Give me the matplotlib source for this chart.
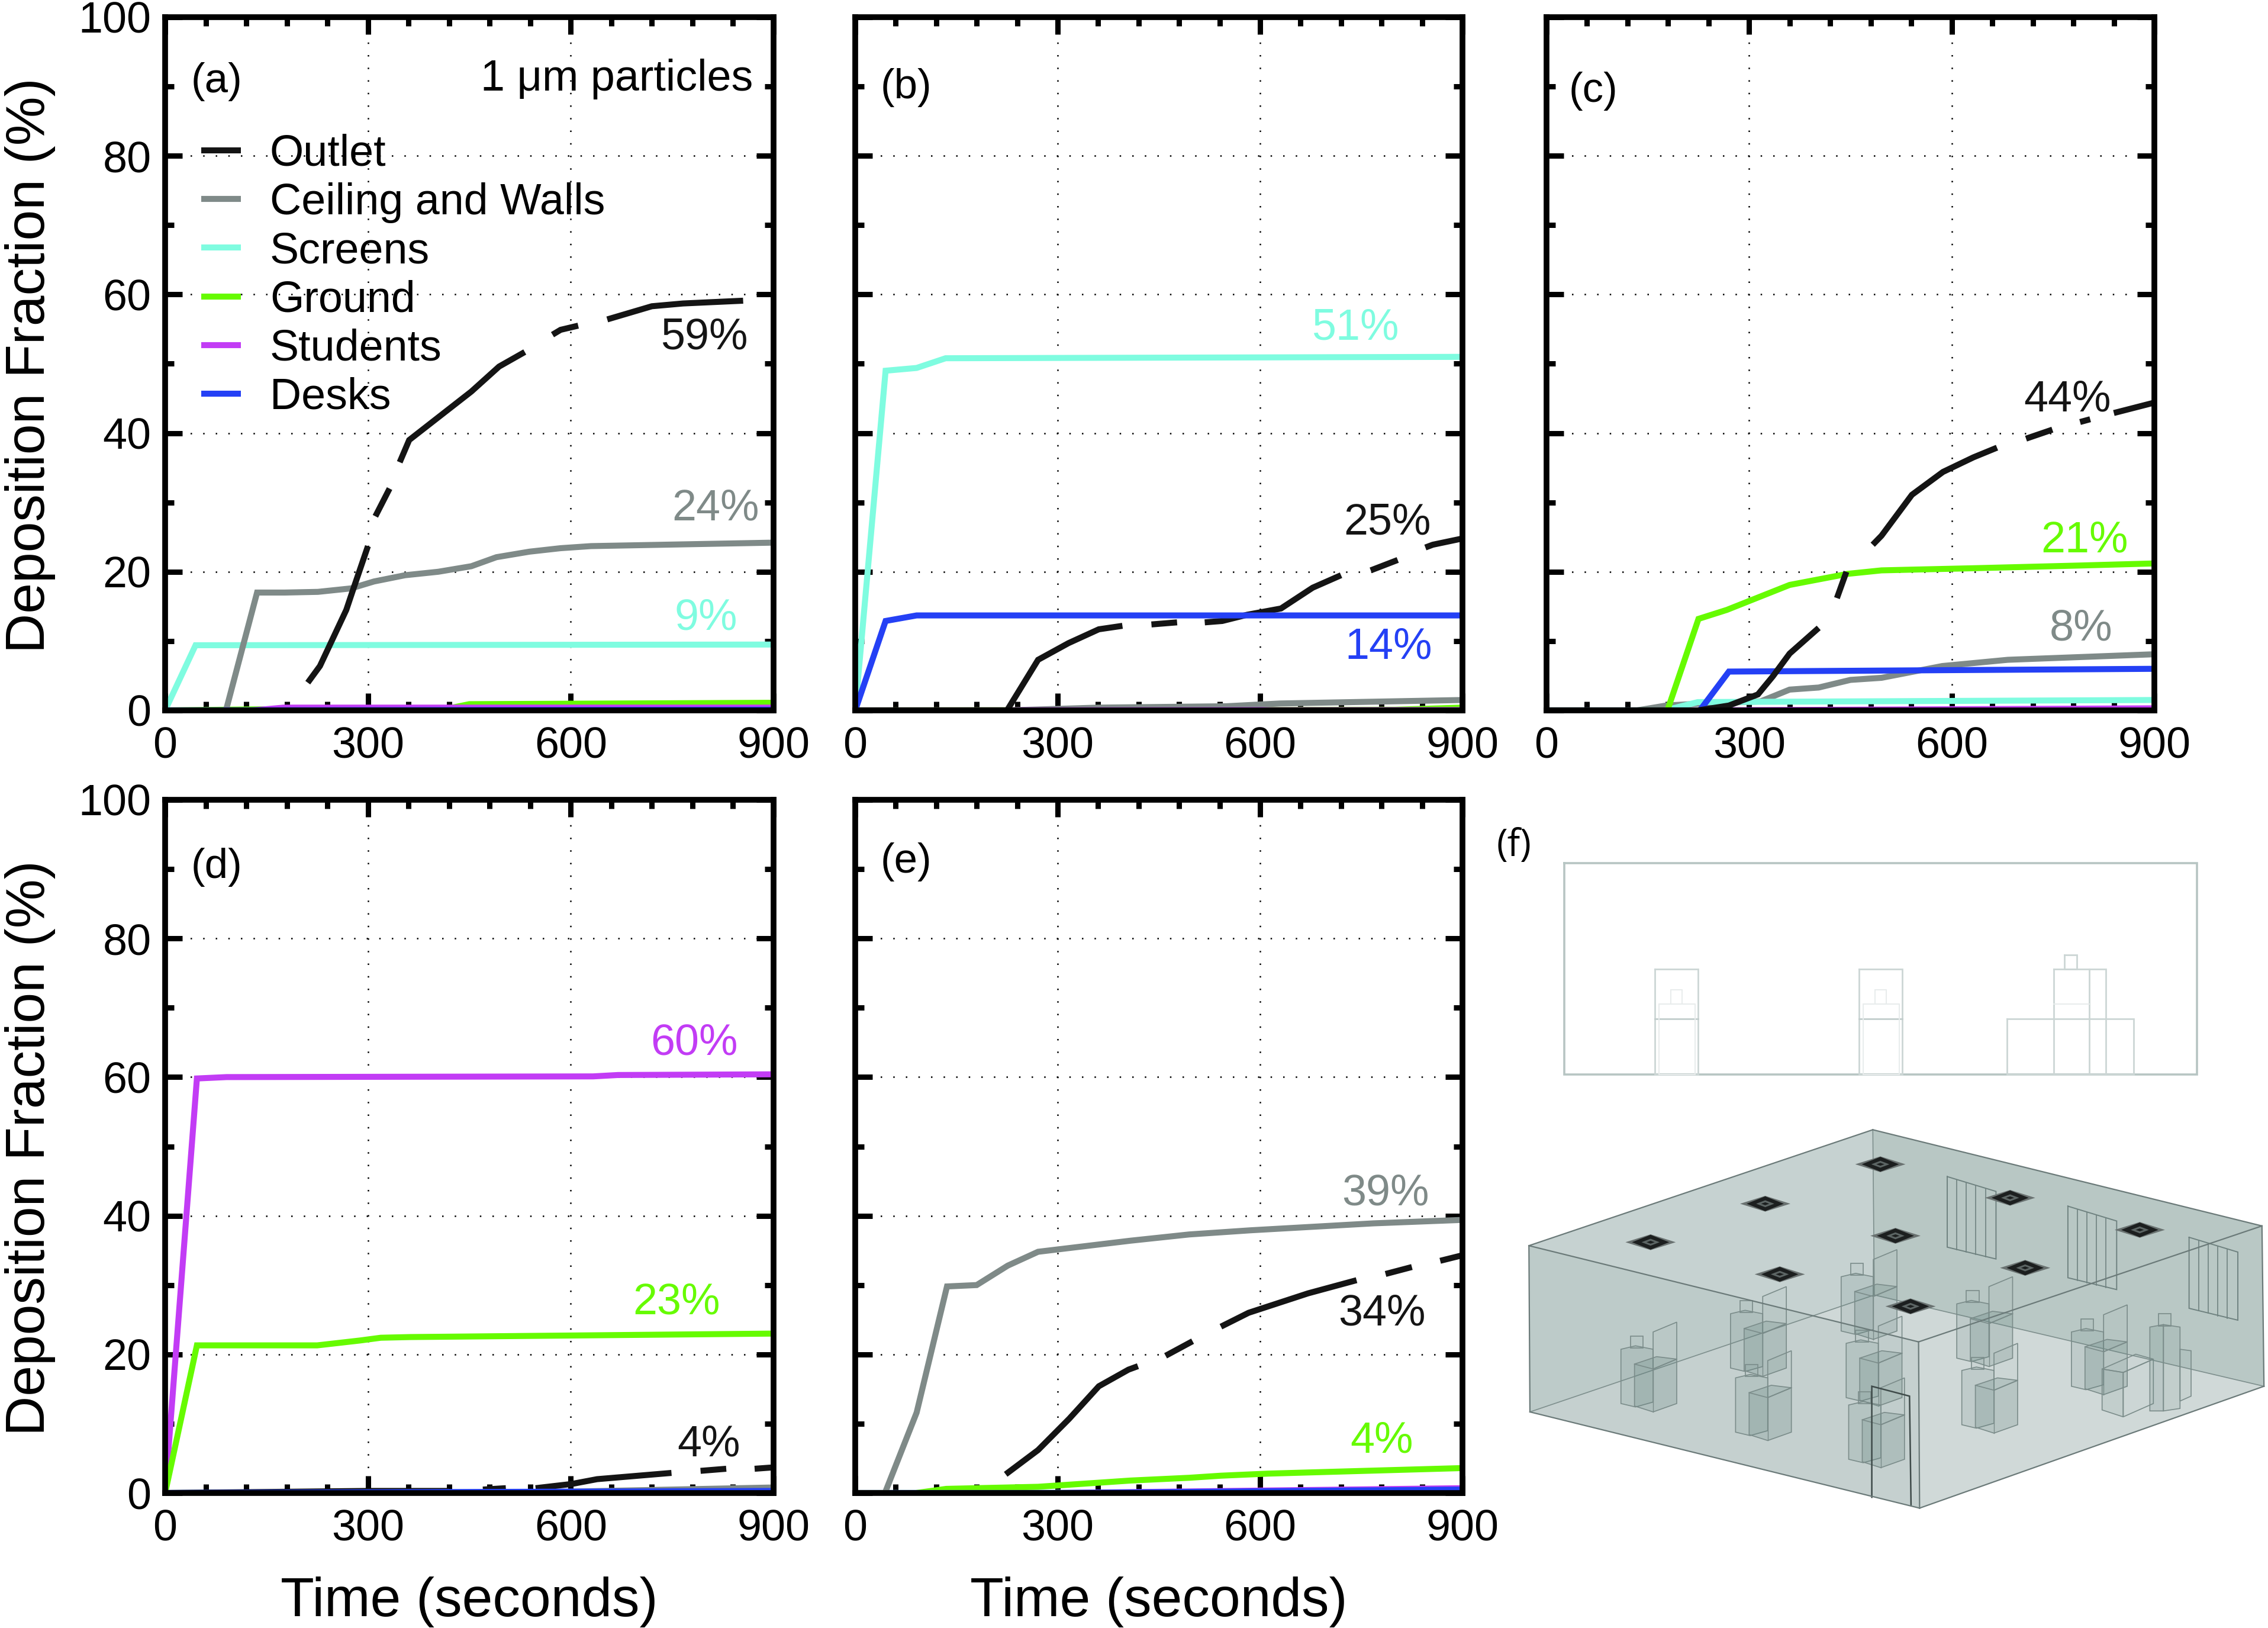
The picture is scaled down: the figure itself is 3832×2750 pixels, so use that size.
import numpy as np
import matplotlib
matplotlib.use("Agg")
import matplotlib.pyplot as plt
from matplotlib.patches import Polygon
from matplotlib.ticker import MultipleLocator

plt.rcParams['font.family'] = ['Liberation Sans', 'DejaVu Sans']
gap = float('nan')

# ---- data, panel (a)
a_outlet_t = [211, 229, 268, 279, 300, gap, 311, 332, gap, 347, 361, 407, 453, 494, 532, gap, 573, 585, 611, gap, 654, 720, 766, 855]
a_outlet_y = [4, 6.4, 14.5, 17.7, 23.7, gap, 28, 32, gap, 35.8, 39, 42.5, 46, 49.6, 51.7, gap, 54.2, 54.9, 55.5, gap, 56.4, 58.3, 58.7, 59.1]
a_ceiling_t = [0, 90, 136, 177, 226, 275, 309, 355, 404, 453, 490, 539, 585, 630, 900]
a_ceiling_y = [0, 0, 17, 17, 17.1, 17.6, 18.6, 19.5, 20, 20.8, 22.1, 22.9, 23.4, 23.7, 24.2]
a_screens_t = [0, 45, 900]
a_screens_y = [0, 9.4, 9.5]
a_ground_t = [0, 180, 420, 450, 900]
a_ground_y = [0, 0.2, 0.3, 0.9, 1.1]
a_students_t = [0, 130, 175, 900]
a_students_y = [0, 0, 0.4, 0.4]
a_desks_t = [0, 900]
a_desks_y = [0, 0.1]

# ---- data, panel (b)
b_outlet_t = [0, 225, 271, 316, 361, 396, gap, 439, 477, gap, 518, 544, 581, 631, 678, 720, gap, 764, 804, gap, 845, 856, 900]
b_outlet_y = [0, 0, 7.3, 9.7, 11.7, 12.2, gap, 12.4, 12.7, gap, 12.7, 12.9, 13.8, 14.7, 17.7, 19.5, gap, 20.2, 21.7, gap, 23.5, 23.9, 24.8]
b_ceiling_t = [0, 225, 360, 550, 630, 900]
b_ceiling_y = [0, 0, 0.4, 0.6, 1, 1.5]
b_screens_t = [0, 45, 91, 134, 900]
b_screens_y = [0, 49, 49.4, 50.8, 51]
b_ground_t = [0, 800, 900]
b_ground_y = [0, 0.1, 0.4]
b_students_t = [0, 900]
b_students_y = [0, 0.05]
b_desks_t = [0, 45, 91, 900]
b_desks_y = [0, 12.9, 13.7, 13.7]

# ---- data, panel (c)
c_outlet_t = [0, 224, 270, 313, 335, 360, 403, gap, 430, 444, gap, 483, 496, 541, 587, 632, 667, gap, 710, 749, gap, 790, 805, gap, 840, 900]
c_outlet_y = [0, 0, 0.7, 2.3, 4.9, 8.2, 11.9, gap, 16.2, 20, gap, 23.9, 25.2, 31.1, 34.4, 36.5, 37.9, gap, 39.2, 40.5, gap, 41.6, 42, gap, 42.9, 44.4]
c_ceiling_t = [0, 134, 177, 231, 317, 360, 403, 450, 496, 586, 683, 900]
c_ceiling_y = [0, 0, 0.7, 1, 1.3, 3, 3.3, 4.4, 4.7, 6.4, 7.3, 8.1]
c_screens_t = [0, 175, 224, 900]
c_screens_y = [0, 0, 1.2, 1.5]
c_ground_t = [0, 179, 225, 267, 360, 446, 496, 539, 629, 790, 900]
c_ground_y = [0, 0, 13.2, 14.5, 18.1, 19.7, 20.2, 20.3, 20.5, 20.9, 21.2]
c_students_t = [0, 220, 900]
c_students_y = [0, 0, 0.3]
c_desks_t = [0, 227, 270, 900]
c_desks_y = [0, 0, 5.6, 6.0]

# ---- data, panel (d)
d_outlet_t = [0, 300, 420, gap, 470, 504, gap, 548, 601, 639, 749, gap, 792, 830, gap, 872, 900]
d_outlet_y = [0, 0.3, 0.3, gap, 0.5, 0.7, gap, 0.7, 1.3, 2, 2.9, gap, 3.2, 3.5, gap, 3.5, 3.7]
d_ceiling_t = [0, 550, 900]
d_ceiling_y = [0, 0.1, 0.8]
d_screens_t = [0, 900]
d_screens_y = [0, 0.1]
d_ground_t = [0, 47, 225, 288, 319, 363, 900]
d_ground_y = [0, 21.3, 21.3, 22, 22.4, 22.5, 23]
d_students_t = [0, 47, 91, 633, 670, 900]
d_students_y = [0, 59.8, 60, 60.1, 60.3, 60.4]
d_desks_t = [0, 900]
d_desks_y = [0, 0.3]

# ---- data, panel (e)
e_outlet_t = [223, 271, 317, 361, 405, 419, gap, 460, 500, gap, 542, 583, 671, 743, gap, 786, 825, gap, 867, 900]
e_outlet_y = [2.7, 6.2, 10.7, 15.4, 17.8, 18.3, gap, 19.8, 21.9, gap, 24, 26, 28.8, 30.7, gap, 31.6, 32.6, gap, 33.5, 34.3]
e_ceiling_t = [0, 44, 91, 136, 180, 226, 271, 408, 495, 586, 768, 900]
e_ceiling_y = [0, 0, 11.6, 29.8, 30, 32.8, 34.8, 36.4, 37.3, 37.9, 38.9, 39.4]
e_screens_t = [0, 900]
e_screens_y = [0, 0.1]
e_ground_t = [0, 90, 135, 271, 408, 495, 542, 612, 900]
e_ground_y = [0, 0, 0.6, 0.9, 1.8, 2.2, 2.5, 2.8, 3.6]
e_students_t = [0, 300, 900]
e_students_y = [0, 0, 0.7]
e_desks_t = [0, 300, 900]
e_desks_y = [0, 0, 0.5]

names = ['Outlet', 'Ceiling and Walls', 'Screens', 'Ground', 'Students', 'Desks']
colors = ['#141414', '#7f8a88', '#7ffce0', '#66fb00', '#c23cf5', '#2440f5']
x_ticks = [0, 300, 600, 900]
y_ticks = [0, 20, 40, 60, 80, 100]

W, H = 3832, 2750
fig = plt.figure(figsize=(W / 100, H / 100), dpi=100, facecolor='white')


def px_axes(x0, y0, x1, y1, **kw):
    return fig.add_axes([x0 / W, 1 - y1 / H, (x1 - x0) / W, (y1 - y0) / H], **kw)


panels = [
    dict(box=(279, 29, 1307, 1200), tag='(a)', tagpos=(38, 90.7), ylab=True, xlab=False,
         series=[(a_ground_t, a_ground_y), (a_screens_t, a_screens_y), (a_ceiling_t, a_ceiling_y),
                 (a_students_t, a_students_y), (a_desks_t, a_desks_y), (a_outlet_t, a_outlet_y)],
         notes=[('59%', 862, 53.8, 0), ('24%', 879, 29.1, 1), ('9%', 847, 13.3, 2)]),
    dict(box=(1445, 29, 2471, 1200), tag='(b)', tagpos=(37, 89.8), ylab=False, xlab=False,
         series=[(b_ground_t, b_ground_y), (b_ceiling_t, b_ceiling_y), (b_students_t, b_students_y),
                 (b_screens_t, b_screens_y), (b_outlet_t, b_outlet_y), (b_desks_t, b_desks_y)],
         notes=[('51%', 806, 55.2, 2), ('25%', 853, 27.1, 0), ('14%', 855, 9.1, 5)]),
    dict(box=(2613, 29, 3640, 1200), tag='(c)', tagpos=(33, 89.3), ylab=False, xlab=False,
         series=[(c_students_t, c_students_y), (c_ceiling_t, c_ceiling_y), (c_screens_t, c_screens_y),
                 (c_ground_t, c_ground_y), (c_desks_t, c_desks_y), (c_outlet_t, c_outlet_y)],
         notes=[('44%', 836, 44.8, 0), ('21%', 861, 24.5, 3), ('8%', 838, 11.8, 1)]),
    dict(box=(279, 1351, 1307, 2522), tag='(d)', tagpos=(38, 90.3), ylab=True, xlab=True,
         series=[(d_ceiling_t, d_ceiling_y), (d_screens_t, d_screens_y), (d_students_t, d_students_y),
                 (d_ground_t, d_ground_y), (d_outlet_t, d_outlet_y), (d_desks_t, d_desks_y)],
         notes=[('60%', 847, 64.9, 4), ('23%', 821, 27.5, 3), ('4%', 851, 7, 0)]),
    dict(box=(1445, 1351, 2471, 2522), tag='(e)', tagpos=(37, 91), ylab=False, xlab=True,
         series=[(e_screens_t, e_screens_y), (e_ground_t, e_ground_y), (e_students_t, e_students_y),
                 (e_desks_t, e_desks_y), (e_ceiling_t, e_ceiling_y), (e_outlet_t, e_outlet_y)],
         notes=[('39%', 851, 43.2, 1), ('34%', 845, 25.9, 0), ('4%', 827, 7.5, 3)]),
]
# which colour each series of a panel uses, in its drawing order
orders = [[3, 2, 1, 4, 5, 0], [3, 1, 4, 2, 0, 5], [4, 1, 2, 3, 5, 0], [1, 2, 4, 3, 0, 5], [2, 3, 4, 5, 1, 0]]

FS = 53
for p, order in zip(panels, orders):
    ax = px_axes(*p['box'])
    handles = {}
    for (t, y), ci in zip(p['series'], order):
        ln, = ax.plot(t, y, color=colors[ci], lw=7.3, solid_capstyle='butt', solid_joinstyle='miter',
                      label=names[ci], zorder=2)
        handles[ci] = ln
    ax.set_xlim(0, 900)
    ax.set_ylim(0, 100)
    ax.set_xticks(x_ticks)
    ax.set_yticks(y_ticks)
    ax.xaxis.set_minor_locator(MultipleLocator(60))
    ax.yaxis.set_minor_locator(MultipleLocator(10))
    ax.grid(True, which='major', color='black', linestyle=(0, (1, 7.5)), linewidth=1.8, zorder=1)
    ax.set_axisbelow(True)
    ax.tick_params(which='major', direction='in', length=21, width=6.5, top=True, right=True,
                   labelsize=FS)
    ax.tick_params(which='minor', direction='in', length=11, width=6.5, top=True, right=True)
    ax.tick_params(axis='x', which='major', pad=19)
    ax.tick_params(axis='y', which='major', pad=17, labelleft=p['ylab'])
    for s in ax.spines.values():
        s.set_linewidth(7)
    if p['ylab']:
        ax.set_ylabel('Deposition Fraction (%)', fontsize=67, va='center')
        ax.yaxis.set_label_coords(-0.222, 0.498)
    if p['xlab']:
        ax.set_xlabel('Time (seconds)', fontsize=67, va='center')
        ax.xaxis.set_label_coords(0.5, -0.157)
    ax.text(p['tagpos'][0], p['tagpos'][1], p['tag'], fontsize=51, ha='left', va='center')
    for txt, x, y, ci in p['notes']:
        ax.text(x, y, txt, color=colors[ci], fontsize=FS, ha='right', va='center')
    if p['tag'] == '(a)':
        ax.text(870, 91.1, '1 \u03bcm particles', fontsize=FS, ha='right', va='center')
        ax.legend([handles[i] for i in range(6)], names, loc='upper left',
                  bbox_to_anchor=(0.059, 0.832), frameon=False, fontsize=FS,
                  handlelength=0.92, handletextpad=0.66, labelspacing=0.18,
                  borderpad=0, borderaxespad=0)

# ---- panel (f): schematic of the classroom
fx = px_axes(2500, 1300, 3832, 2600)
fx.set_xlim(0, 1568)
fx.set_ylim(1560, 0)
fx.axis('off')
fx.patch.set_alpha(0)
fx.text(68, 155, '(f)', fontsize=46, ha='center', va='center', family=['Open Sans', 'DejaVu Sans'])

EDGE = '#ccd6d5'
DARK = '#6b7a79'
TEAL = '#5f807c'


def outline(xs, ys, c=EDGE, lw=2.0, z=3):
    fx.plot(xs, ys, color=c, lw=lw, solid_joinstyle='miter', zorder=z)


def rect(x0, y0, x1, y1, c=EDGE, lw=2.0, z=3):
    outline([x0, x1, x1, x0, x0], [y0, y0, y1, y1, y0], c, lw, z)


def face(pts, alpha, z=2, ec='none', lw=1.2, fc=TEAL):
    fx.add_patch(Polygon(pts, closed=True, fc=matplotlib.colors.to_rgba(fc, alpha), ec=ec, lw=lw, zorder=z))


# top elevation
rect(168, 190, 1427, 618, '#b7c5c3', 2.6)
for a, b in ((349, 434), (755, 841)):
    rect(a, 404, b, 618)
    outline([a, b], [505, 505], '#c2cdcc')
    rect(a + 8, 475, b - 6, 618, '#e8ecec', 1.4)
    rect(a + 31, 447, a + 54, 475, '#e8ecec', 1.4)
rect(1049, 505, 1301, 618)
rect(1142, 404, 1246, 618)
outline([1212, 1212], [404, 618])
rect(1163, 376, 1188, 404)
outline([1142, 1212], [475, 475], '#e8ecec', 1.4)

# room faces
T0, T1, T2, T3 = (98, 965), (782, 730), (1556, 925), (873, 1160)
B0, B1, B2, B3 = (100, 1302), (785, 1065), (1560, 1250), (875, 1497)
face([B0, B1, B2, B3], 0.20, 1)
face([T0, T1, B1, B0], 0.26, 1)
face([T1, T2, B2, B1], 0.36, 1)
face([T0, T3, B3, B0], 0.20, 2)
face([T0, T1, T2, T3], 0.12, 2)
face([T3, T2, B2, B3], 0.11, 1)

# screens on the far wall
for x0, y0, y1 in ((930, 825, 968), (1170, 885, 1030), (1411, 948, 1092)):
    x1 = x0 + 97
    outline([x0, x1, x1, x0, x0], [y0, y0 + 30, y1 + 24, y1, y0], '#6f8280', 1.4, 4)
    for k in range(1, 5):
        xk = x0 + k * 19
        outline([xk, xk], [y0 + k * 6, y1 + k * 5], '#6f8280', 1.2, 4)

# ceiling outlets
for cx, cy in ((340, 958), (568, 880), (797, 800), (597, 1023), (827, 945),
               (1055, 868), (857, 1088), (1085, 1010), (1313, 933)):
    face([(cx - 50, cy), (cx, cy - 16), (cx + 50, cy), (cx, cy + 16)], 1.0, 6, fc='#6a7271')
    face([(cx - 37, cy), (cx, cy - 15), (cx + 37, cy), (cx, cy + 15)], 1.0, 6, fc='#1c1f1f')
    face([(cx - 18, cy), (cx, cy - 7), (cx + 18, cy), (cx, cy + 7)], 1.0, 6, fc='#5c6564')
    face([(cx - 8, cy), (cx, cy - 3), (cx + 8, cy), (cx, cy + 3)], 1.0, 6, fc='#1c1f1f')


def student(dx, dy):
    def P(*pts):
        return [(x + dx, y + dy) for x, y in pts]
    line = '#7b8c8a'
    face(P((281, 1175), (310, 1168), (345, 1175), (345, 1282), (310, 1292), (281, 1285)), 0.15, 3, line)
    face(P((300, 1148), (325, 1148), (325, 1172), (300, 1172)), 0.05, 3, line)
    face(P((345, 1140), (392, 1120), (392, 1195), (345, 1215)), 0.03, 3, line)
    face(P((308, 1205), (352, 1190), (392, 1195), (392, 1285), (345, 1302), (308, 1290)), 0.22, 3, line)
    outline([308 + dx, 345 + dx, 392 + dx], [1205 + dy, 1215 + dy, 1195 + dy], line, 1.2, 3)
    outline([345 + dx, 345 + dx], [1215 + dy, 1302 + dy], line, 1.0, 3)


for dx, dy in ((0, 0), (218, -72), (438, -147), (228, 58), (448, -12), (453, 113),
               (668, -92), (678, 43), (896, -35)):
    student(dx, dy)

# teacher's group
line = '#7b8c8a'
face([(1393, 1175), (1415, 1178), (1415, 1270), (1393, 1280)], 0.08, 3, line)
face([(1238, 1215), (1280, 1222), (1280, 1312), (1238, 1298)], 0.12, 3, line)
face([(1280, 1222), (1340, 1195), (1340, 1285), (1280, 1312)], 0.03, 3, line)
face([(1238, 1215), (1305, 1185), (1340, 1195), (1280, 1222)], 0.04, 3, line)
face([(1333, 1130), (1360, 1125), (1360, 1300), (1333, 1300)], 0.18, 3, line)
face([(1360, 1125), (1393, 1130), (1393, 1295), (1360, 1300)], 0.12, 3, line)
face([(1350, 1103), (1375, 1103), (1375, 1128), (1350, 1128)], 0.05, 3, line)

# door
outline([780, 780, 855, 858], [1475, 1250, 1270, 1490], '#3e4a49', 1.8, 5)

# room edges
for a, b in ((T0, T1), (T1, T2), (T2, T3), (T3, T0), (B0, B3), (B3, B2), (T0, B0), (T3, B3), (T2, B2)):
    outline([a[0], b[0]], [a[1], b[1]], DARK, 1.6, 5)
for a, b in ((T1, B1), (B0, B1), (B1, B2)):
    outline([a[0], b[0]], [a[1], b[1]], '#7e8f8d', 1.2, 2)

fig.savefig('out.png', dpi=100)
